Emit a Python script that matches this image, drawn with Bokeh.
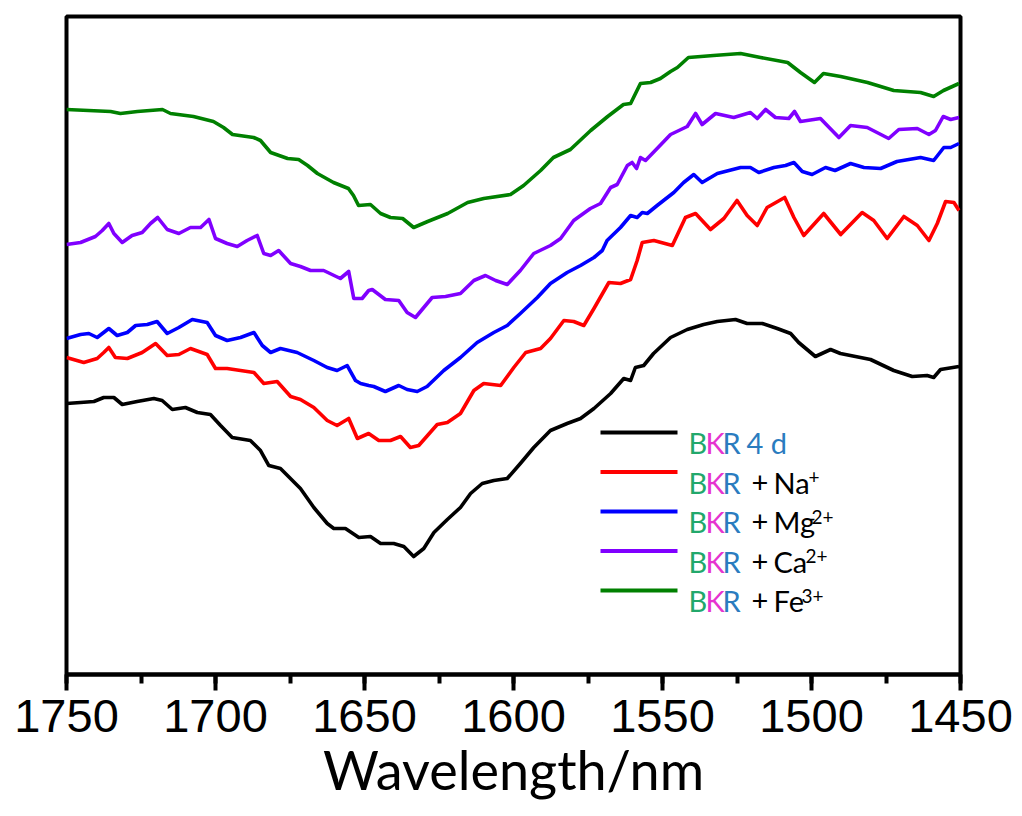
from bokeh.plotting import figure
from bokeh.models import Range1d, SingleIntervalTicker, Label, BoxAnnotation
from bokeh.embed import file_html
from bokeh.resources import INLINE

# ---- data (wavelength in nm, intensity in arbitrary units) ----
wl_black = [1750, 1745.3, 1740.8, 1737.5, 1734.1, 1731.3, 1726.3, 1720.7, 1717.9, 1714.5,
            1710.1, 1706.1, 1701.7, 1698.3, 1694.4, 1688.3, 1684.9, 1682.1, 1678.2, 1671.5,
            1667.0, 1662.5, 1660.3, 1656.4, 1651.9, 1648.0, 1644.6, 1640.2, 1636.8, 1633.5,
            1630.1, 1626.7, 1622.2, 1617.8, 1614.4, 1610.5, 1606.6, 1602.1, 1597.7, 1593.2,
            1587.6, 1582.0, 1577.5, 1573.0, 1567.4, 1563.0, 1560.7, 1559.1, 1556.3, 1553.0,
            1547.3, 1541.7, 1536.2, 1531.6, 1525.5, 1521.6, 1516.5, 1511.5, 1507.0, 1504.3,
            1498.7, 1493.6, 1490.3, 1480.2, 1472.4, 1466.2, 1461.2, 1459.0, 1456.7, 1450.5]
black = [2.70, 2.71, 2.72, 2.76, 2.76, 2.69, 2.72, 2.75, 2.73, 2.64,
         2.66, 2.61, 2.59, 2.48, 2.36, 2.33, 2.23, 2.08, 2.05, 1.85,
         1.66, 1.50, 1.45, 1.45, 1.36, 1.37, 1.30, 1.30, 1.27, 1.17,
         1.25, 1.41, 1.54, 1.66, 1.80, 1.90, 1.93, 1.95, 2.10, 2.26,
         2.43, 2.50, 2.55, 2.65, 2.80, 2.95, 2.93, 3.06, 3.08, 3.20,
         3.36, 3.44, 3.49, 3.52, 3.54, 3.50, 3.50, 3.45, 3.40, 3.31,
         3.17, 3.24, 3.20, 3.14, 3.03, 2.97, 2.98, 2.96, 3.04, 3.07]

wl_na = [1750, 1744.2, 1739.7, 1737.5, 1735.8, 1733.6, 1729.6, 1724.6, 1720.1, 1716.2,
         1712.3, 1708.4, 1702.8, 1700.0, 1696.1, 1691.6, 1687.1, 1683.8, 1679.3, 1674.8,
         1671.5, 1667.0, 1662.5, 1659.2, 1655.3, 1652.4, 1648.6, 1645.2, 1641.3, 1637.9,
         1634.6, 1631.8, 1625.6, 1622.2, 1617.8, 1613.3, 1610.0, 1604.3, 1599.9, 1595.9,
         1590.9, 1587.6, 1583.1, 1579.8, 1576.4, 1573.0, 1568.0, 1564.1, 1560.7, 1558.5,
         1556.8, 1552.9, 1546.7, 1542.3, 1538.9, 1533.9, 1529.4, 1525.0, 1521.6, 1518.2,
         1514.9, 1509.0, 1505.9, 1502.6, 1495.9, 1490.2, 1483.0, 1479.1, 1474.6, 1469.0,
         1464.5, 1460.6, 1457.8, 1455.0, 1452.2, 1450.5]
na = [3.16, 3.11, 3.15, 3.21, 3.26, 3.16, 3.15, 3.21, 3.30, 3.18,
      3.19, 3.25, 3.19, 3.05, 3.05, 3.03, 3.01, 2.90, 2.92, 2.77,
      2.74, 2.66, 2.53, 2.48, 2.55, 2.35, 2.40, 2.33, 2.33, 2.37,
      2.26, 2.28, 2.49, 2.51, 2.60, 2.83, 2.90, 2.88, 3.06, 3.21,
      3.25, 3.35, 3.53, 3.52, 3.48, 3.65, 3.91, 3.90, 3.94, 4.13,
      4.31, 4.33, 4.28, 4.56, 4.60, 4.44, 4.55, 4.73, 4.58, 4.48,
      4.66, 4.76, 4.56, 4.38, 4.60, 4.39, 4.61, 4.53, 4.35, 4.57,
      4.48, 4.33, 4.50, 4.72, 4.71, 4.63]

wl_mg = [1750, 1745.3, 1742.5, 1739.7, 1735.8, 1733.0, 1729.6, 1726.8, 1722.9, 1719.6,
         1716.2, 1712.3, 1707.8, 1702.8, 1700.0, 1696.1, 1691.6, 1687.1, 1684.3, 1681.5,
         1678.2, 1672.6, 1667.0, 1662.5, 1659.2, 1655.8, 1653.0, 1651.3, 1648.6, 1646.9,
         1643.0, 1638.5, 1635.7, 1632.3, 1629.0, 1623.4, 1617.8, 1612.2, 1606.6, 1602.1,
         1597.7, 1592.0, 1587.6, 1582.0, 1577.5, 1573.0, 1570.2, 1568.6, 1564.1, 1560.7,
         1558.5, 1556.8, 1555.1, 1551.8, 1546.2, 1542.9, 1539.5, 1536.7, 1531.6, 1523.8,
         1520.5, 1517.7, 1512.6, 1508.7, 1505.9, 1503.1, 1499.8, 1495.3, 1492.1, 1486.9,
         1482.4, 1476.8, 1471.3, 1463.4, 1459.0, 1455.6, 1453.3, 1450.5]
mg = [3.35, 3.39, 3.40, 3.36, 3.45, 3.38, 3.41, 3.48, 3.49, 3.52,
      3.40, 3.46, 3.54, 3.51, 3.38, 3.33, 3.36, 3.41, 3.28, 3.21,
      3.25, 3.21, 3.13, 3.06, 3.03, 3.08, 2.93, 2.90, 2.88, 2.87,
      2.82, 2.88, 2.84, 2.82, 2.87, 3.03, 3.16, 3.31, 3.41, 3.48,
      3.60, 3.76, 3.90, 4.01, 4.08, 4.16, 4.23, 4.33, 4.46, 4.58,
      4.56, 4.61, 4.60, 4.68, 4.81, 4.91, 4.99, 4.91, 5.00, 5.06,
      5.06, 5.01, 5.06, 5.08, 5.11, 5.02, 4.99, 5.06, 5.03, 5.10,
      5.06, 5.05, 5.12, 5.16, 5.13, 5.26, 5.26, 5.30]

wl_ca = [1750, 1745.3, 1740.3, 1738.0, 1735.8, 1734.1, 1731.3, 1728.0, 1724.6, 1721.8,
         1719.4, 1716.2, 1712.3, 1708.4, 1705.0, 1702.2, 1700.0, 1696.1, 1692.7, 1689.4,
         1686.0, 1683.8, 1681.5, 1678.8, 1674.8, 1671.5, 1668.1, 1663.7, 1658.1, 1655.3,
         1653.6, 1650.8, 1648.6, 1647.4, 1643.0, 1638.5, 1635.7, 1632.9, 1627.3, 1622.8,
         1617.8, 1613.3, 1609.4, 1606.0, 1602.1, 1597.7, 1593.2, 1587.6, 1584.2, 1579.8,
         1574.2, 1570.8, 1567.4, 1565.2, 1561.8, 1560.2, 1558.7, 1557.4, 1555.7, 1551.8,
         1547.3, 1541.7, 1538.9, 1536.7, 1532.2, 1526.1, 1520.5, 1518.2, 1515.4, 1512.1,
         1507.6, 1505.7, 1503.7, 1497.0, 1490.8, 1486.9, 1481.3, 1474.1, 1470.7, 1464.5,
         1460.6, 1458.4, 1455.8, 1453.3, 1450.5]
ca = [4.29, 4.31, 4.37, 4.43, 4.50, 4.40, 4.31, 4.38, 4.41, 4.50,
      4.56, 4.44, 4.40, 4.46, 4.46, 4.54, 4.35, 4.30, 4.27, 4.33,
      4.38, 4.20, 4.18, 4.23, 4.10, 4.07, 4.03, 4.03, 3.95, 4.02,
      3.75, 3.75, 3.83, 3.84, 3.74, 3.73, 3.61, 3.56, 3.76, 3.77,
      3.80, 3.93, 3.98, 3.93, 3.89, 4.03, 4.20, 4.28, 4.35, 4.53,
      4.65, 4.70, 4.86, 4.89, 5.08, 5.11, 5.05, 5.16, 5.13, 5.25,
      5.39, 5.47, 5.60, 5.49, 5.60, 5.56, 5.61, 5.55, 5.64, 5.56,
      5.55, 5.62, 5.52, 5.55, 5.36, 5.48, 5.46, 5.35, 5.44, 5.45,
      5.39, 5.43, 5.57, 5.54, 5.56]

wl_fe = [1750, 1735.2, 1731.9, 1726.2, 1717.8, 1715.1, 1707.4, 1700.7, 1697.3, 1694.3,
         1687.2, 1684.9, 1681.5, 1675.8, 1672.1, 1669.1, 1665.8, 1660.4, 1655.4, 1653.7,
         1652.0, 1648.0, 1644.6, 1641.3, 1637.2, 1633.5, 1628.8, 1622.1, 1615.4, 1610.0,
         1601.0, 1596.6, 1590.9, 1586.6, 1580.9, 1574.1, 1568.4, 1563.1, 1560.7, 1557.4,
         1554.0, 1550.7, 1547.3, 1545.0, 1541.3, 1532.9, 1523.8, 1517.1, 1508.0, 1503.7,
         1499.0, 1496.0, 1490.2, 1481.2, 1472.4, 1463.4, 1459.0, 1455.7, 1450.5]
fe = [5.64, 5.62, 5.60, 5.62, 5.64, 5.60, 5.57, 5.52, 5.46, 5.39,
      5.36, 5.33, 5.21, 5.15, 5.14, 5.08, 5.00, 4.91, 4.85, 4.78,
      4.68, 4.69, 4.60, 4.56, 4.55, 4.46, 4.52, 4.60, 4.71, 4.75,
      4.79, 4.88, 5.03, 5.16, 5.24, 5.43, 5.57, 5.69, 5.70, 5.90,
      5.91, 5.95, 6.02, 6.06, 6.16, 6.18, 6.20, 6.16, 6.11, 6.01,
      5.91, 6.00, 5.97, 5.91, 5.83, 5.81, 5.77, 5.83, 5.90]

series_x = [wl_black, wl_na, wl_mg, wl_ca, wl_fe]
series_y = [black, na, mg, ca, fe]
colors = ["#000000", "#ff0000", "#0000ff", "#8000ff", "#008000"]
ions = ["4 d", "Na", "Mg", "Ca", "Fe"]
charges = ["", "+", "2+", "2+", "3+"]
x_ticks_interval = 50

# ---- figure ----
p = figure(frame_width=894, frame_height=658,
           x_range=Range1d(1750, 1450), y_range=Range1d(-0.01, 6.57),
           output_backend="svg", toolbar_location=None,
           min_border_left=66, min_border_right=54, min_border_top=16, min_border_bottom=134)

for xs, ys, c in zip(series_x, series_y, colors):
    p.line(xs, ys, line_color=c, line_width=3.6, line_join="round")

p.yaxis.visible = False
p.grid.visible = False
p.outline_line_color = "black"
p.outline_line_width = 4
p.outline_line_alpha = 1
p.background_fill_color = "white"
p.border_fill_color = "white"

ax = p.xaxis[0]
ax.ticker = SingleIntervalTicker(interval=x_ticks_interval, num_minor_ticks=2)
ax.axis_line_width = 4
ax.major_tick_line_width = 4
ax.minor_tick_line_width = 4
ax.major_tick_in = 0
ax.major_tick_out = 16
ax.minor_tick_in = 0
ax.minor_tick_out = 9
ax.major_label_text_font = "Liberation Sans"
ax.major_label_text_font_size = "47px"
ax.major_label_text_color = "black"
ax.major_label_standoff = 9
ax.axis_label = "Wavelength/nm"
ax.axis_label_text_font = "Lato"
ax.axis_label_text_font_size = "54px"
ax.axis_label_text_font_style = "normal"
ax.axis_label_text_color = "black"
ax.axis_label_standoff = 2

# ---- legend (manual, multicolour text) ----
bkr_colors = ["#22a86b", "#e633d0", "#2a7cbf"]
bkr_x = [622, 639, 656]
sup_pos = {"Na": 742, "Mg": 745, "Ca": 739, "Fe": 735}
line_y0 = 242
step = 39.5
fs = "29px"
for i, (c, ion, ch) in enumerate(zip(colors, ions, charges)):
    yc = line_y0 - i * step
    p.add_layout(BoxAnnotation(left=534, right=611, bottom=yc - 2, top=yc + 2,
                               left_units="screen", right_units="screen",
                               bottom_units="screen", top_units="screen",
                               fill_color=c, fill_alpha=1, line_alpha=0))
    base = yc - 10
    for letter, lc, lx in zip("BKR", bkr_colors, bkr_x):
        p.add_layout(Label(x=lx, y=base, x_units="screen", y_units="screen", text=letter,
                           text_color=lc, text_font="Lato", text_font_size=fs,
                           text_baseline="alphabetic"))
    if i == 0:
        p.add_layout(Label(x=680, y=base, x_units="screen", y_units="screen", text=ion,
                           text_color=bkr_colors[2], text_font="Lato", text_font_size=fs,
                           text_baseline="alphabetic"))
    else:
        p.add_layout(Label(x=685, y=base, x_units="screen", y_units="screen", text="+",
                           text_color="black", text_font="Lato", text_font_size=fs,
                           text_baseline="alphabetic"))
        p.add_layout(Label(x=707, y=base, x_units="screen", y_units="screen", text=ion,
                           text_color="black", text_font="Lato", text_font_size=fs,
                           text_baseline="alphabetic"))
        p.add_layout(Label(x=sup_pos[ion], y=base + 5, x_units="screen", y_units="screen",
                           text=ch, text_color="black", text_font="Lato",
                           text_font_size="19px", text_baseline="alphabetic"))

open("out.html", "w").write(file_html(p, INLINE))
